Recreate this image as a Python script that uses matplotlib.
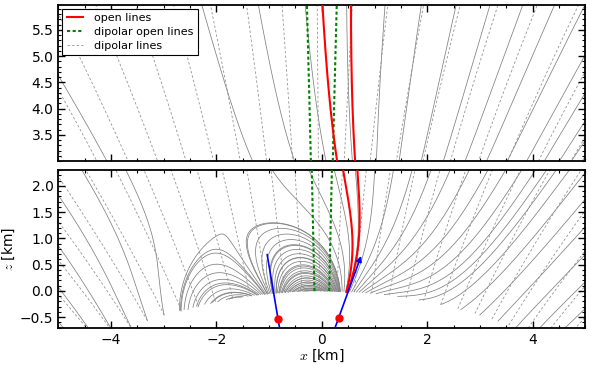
import numpy as np
import matplotlib
matplotlib.use('Agg')
import matplotlib.pyplot as plt
from matplotlib.lines import Line2D
from matplotlib.patches import FancyArrowPatch
from matplotlib.ticker import MultipleLocator

plt.rcParams['mathtext.fontset'] = 'cm'

# star surface and dipole sources (km): global dipole at centre + two crustal dipoles
R_ns = 10.0
dip_x = [0.0, -0.83, 0.32]
dip_z = [-10.0, -0.54, -0.51]
dip_ux = [0.0, 0.166, 0.34]     # moment directions
dip_uz = [1.0, -0.986, 0.94]
dip_m = [500.0, 3.0, 6.0]       # global one gives B = 1 at the pole

x_pc = 0.14          # dipolar polar cap half width [km]
flux_step = 0.33     # seed spacing along the surface
flux_pow = 0.5       # seeds follow |B_n|**flux_pow
inward_boost = 2.0   # extra seeds where field enters the surface
theta_max = 0.6
r_far = 300.0        # where open lines are matched to the dipole


def field(x, z, which):
    bx = np.zeros_like(x)
    bz = np.zeros_like(x)
    for i in which:
        rx = x - dip_x[i]
        rz = z - dip_z[i]
        r2 = rx**2 + rz**2
        mx = dip_m[i] * dip_ux[i]
        mz = dip_m[i] * dip_uz[i]
        mr = mx * rx + mz * rz
        r5 = r2**2.5
        bx += (3 * mr * rx - mx * r2) / r5
        bz += (3 * mr * rz - mz * r2) / r5
    return bx, bz


def trace(x0, z0, sgn, which, nmax=4000, xmax=7.5, zmax=6.5):
    x = np.array(x0, float)
    z = np.array(z0, float)
    s = np.array(sgn, float)
    n = x.size
    loc = [i for i in which if i > 0]
    xs, zs = [x.copy()], [z.copy()]
    alive = np.ones(n, bool)
    last = np.full(n, nmax)
    hit = np.zeros(n, bool)

    def unit(xx, zz):
        bx, bz = field(xx, zz, which)
        b = np.hypot(bx, bz) + 1e-30
        return s * bx / b, s * bz / b

    for k in range(nmax):
        if loc:
            d = np.min([np.hypot(x - dip_x[i], z - dip_z[i]) for i in loc], axis=0)
        else:
            d = np.full(n, np.inf)
        ds = np.minimum(0.02 * d, 0.03 + 0.02 * np.maximum(z - 7, 0))
        ds = np.clip(ds, 0.003, 50) * alive
        k1x, k1z = unit(x, z)
        k2x, k2z = unit(x + 0.5 * ds * k1x, z + 0.5 * ds * k1z)
        k3x, k3z = unit(x + 0.5 * ds * k2x, z + 0.5 * ds * k2z)
        k4x, k4z = unit(x + ds * k3x, z + ds * k3z)
        x = x + ds / 6 * (k1x + 2 * k2x + 2 * k3x + k4x)
        z = z + ds / 6 * (k1z + 2 * k2z + 2 * k3z + k4z)
        rc = np.hypot(x, z + R_ns)
        inside = alive & (rc < R_ns) & (k > 0)
        out = alive & ((np.abs(x) > xmax) | (z > zmax))
        hit |= inside
        stop = inside | out
        last[stop] = k + 1
        alive &= ~stop
        xs.append(x.copy())
        zs.append(z.copy())
        if not alive.any():
            break
    X = np.array(xs)
    Z = np.array(zs)
    lines = [(X[:last[j] + 1, j], Z[:last[j] + 1, j]) for j in range(n)]
    return lines, hit


def surface_seeds(which, boost=1.0):
    th = np.linspace(-theta_max, theta_max, 40001)
    sx = R_ns * np.sin(th)
    sz = R_ns * np.cos(th) - R_ns
    bx, bz = field(sx, sz, which)
    bn = bx * np.sin(th) + bz * np.cos(th)
    w = np.abs(bn)**flux_pow * np.where(bn < 0, boost, 1.0) * R_ns * (th[1] - th[0])
    cum = np.cumsum(w)
    levels = np.arange(flux_step / 2, cum[-1], flux_step)
    idx = np.searchsorted(cum, levels)
    return sx[idx], sz[idx], np.sign(bn[idx])


# total field lines (seeded from both polarities)
sx, sz, sg = surface_seeds([0, 1, 2], inward_boost)
tot_lines, _ = trace(sx, sz, sg, [0, 1, 2])

# pure dipole lines
sx, sz, sg = surface_seeds([0])
dip_lines, _ = trace(sx, sz, sg, [0])

# dipolar open lines
th_pc = np.arcsin(x_pc / R_ns)
pc_th = np.array([-th_pc, th_pc])
green_lines, _ = trace(R_ns * np.sin(pc_th), R_ns * np.cos(pc_th) - R_ns, [1, 1], [0])

# open lines of total field, traced down from far away
th_far = np.arcsin(np.sin(pc_th) * np.sqrt(r_far / R_ns))
red_lines, _ = trace(r_far * np.sin(th_far), r_far * np.cos(th_far) - R_ns, [-1, -1],
                     [0, 1, 2], nmax=6000, xmax=1e6, zmax=1e6)

fig = plt.figure(figsize=(5.91, 3.65), dpi=100)
ax1 = fig.add_axes([0.0987, 0.5589, 0.8917, 0.4282])
ax2 = fig.add_axes([0.0987, 0.1022, 0.8917, 0.432])

for ax in (ax1, ax2):
    for lx, lz in tot_lines:
        ax.plot(lx, lz, color='0.5', lw=0.55, zorder=1)
    for lx, lz in dip_lines:
        ax.plot(lx, lz, color='0.58', lw=0.6, ls=(0, (3, 2.5)), zorder=1)
    for lx, lz in green_lines:
        ax.plot(lx, lz, color='#008000', lw=1.5, ls=(0, (1.5, 1.2)), zorder=3)
    for lx, lz in red_lines:
        ax.plot(lx, lz, color='red', lw=1.5, zorder=3)
    ax.set_xlim(-5, 5)
    ax.xaxis.set_major_locator(MultipleLocator(2))
    ax.xaxis.set_minor_locator(MultipleLocator(0.5))
    ax.yaxis.set_minor_locator(MultipleLocator(0.1))
    ax.tick_params(which='both', direction='in', top=True, right=True, labelsize=10)
    ax.tick_params(which='major', length=5, width=1)
    ax.tick_params(which='minor', length=2.5, width=0.8)
    for sp in ax.spines.values():
        sp.set_linewidth(1.3)

# crustal dipoles: position and moment direction
for i in (1, 2):
    L = 1.25
    tail = (dip_x[i] - L * dip_ux[i], dip_z[i] - L * dip_uz[i])
    head = (dip_x[i] + L * dip_ux[i], dip_z[i] + L * dip_uz[i])
    ax2.add_patch(FancyArrowPatch(tail, head, arrowstyle='-|>', mutation_scale=8,
                                  color='blue', lw=1.2, shrinkA=0, shrinkB=0, zorder=4))
ax2.plot(dip_x[1:], dip_z[1:], 'o', color='red', ms=5, zorder=5)

ax1.set_ylim(3.0, 5.98)
ax1.set_yticks([3.5, 4.0, 4.5, 5.0, 5.5])
ax1.tick_params(labelbottom=False)
ax2.set_ylim(-0.7, 2.3)
ax2.set_yticks([-0.5, 0.0, 0.5, 1.0, 1.5, 2.0])
ax2.set_xlabel('$x$ [km]', fontsize=10, labelpad=1)
ax2.set_ylabel('$z$ [km]', fontsize=10, labelpad=2)

handles = [Line2D([], [], color='red', lw=1.5),
           Line2D([], [], color='#008000', lw=1.5, ls=(0, (1.5, 1.2))),
           Line2D([], [], color='0.58', lw=0.6, ls=(0, (3, 2.5)))]
leg = ax1.legend(handles, ['open lines', 'dipolar open lines', 'dipolar lines'],
                 loc='upper left', fontsize=8, fancybox=False, framealpha=1,
                 edgecolor='black', borderaxespad=0.35, handlelength=1.5,
                 handletextpad=1.0, labelspacing=0.35, borderpad=0.4)
leg.get_frame().set_linewidth(0.8)

fig.savefig('out.png', dpi=100)
